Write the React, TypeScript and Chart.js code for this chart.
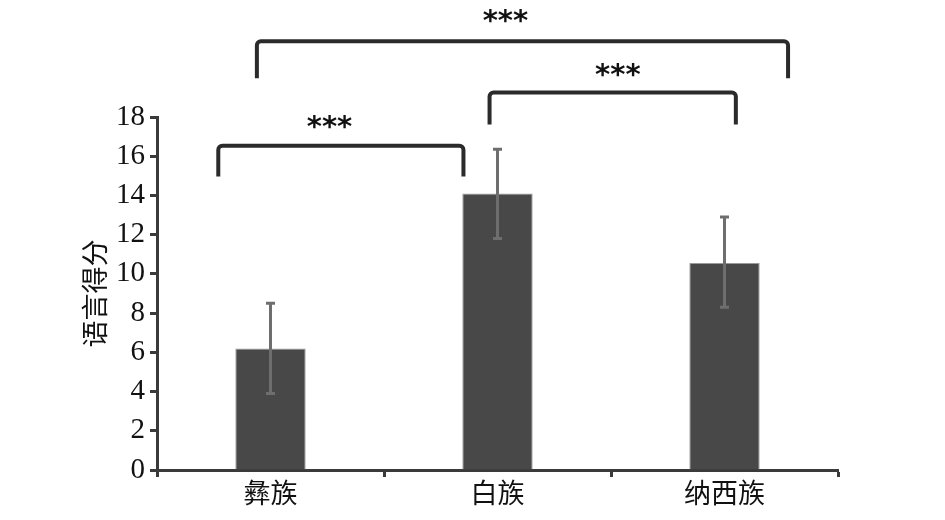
import React, { useEffect, useRef } from "react";
import { Chart, registerables } from "chart.js";

Chart.register(...registerables);

const categories = ["彝族", "白族", "纳西族"];
const means = [6.2, 14.1, 10.55];
const errLow = [3.9, 11.8, 8.3];
const errHigh = [8.5, 16.35, 12.9];

// significance brackets (x in category units, y in data units)
const bracketFrom = [-0.06, 0.965, -0.23];
const bracketTo = [2.28, 2.05, 0.85];
const bracketTop = [21.86, 19.25, 16.54];
const bracketLeg = [19.97, 17.62, 14.96];
const starX = [1.035, 1.53, 0.26];
const starY = [23.15, 20.37, 17.71];
const starText = ["***", "***", "***"];

const errorBarPlugin = {
  id: "errorBars",
  afterDatasetsDraw(chart: any) {
    const ctx = chart.ctx;
    const meta = chart.getDatasetMeta(0);
    const y = chart.scales.y;
    ctx.save();
    ctx.strokeStyle = "#6e6e6e";
    ctx.lineWidth = 3;
    ctx.lineCap = "butt";
    meta.data.forEach((bar: any, i: number) => {
      const x = bar.x;
      const yl = y.getPixelForValue(errLow[i]);
      const yh = y.getPixelForValue(errHigh[i]);
      ctx.beginPath();
      ctx.moveTo(x, yl);
      ctx.lineTo(x, yh);
      ctx.moveTo(x - 4.5, yl);
      ctx.lineTo(x + 4.5, yl);
      ctx.moveTo(x - 4.5, yh);
      ctx.lineTo(x + 4.5, yh);
      ctx.stroke();
    });
    ctx.restore();
  },
};

const bracketPlugin = {
  id: "brackets",
  afterDraw(chart: any) {
    const ctx = chart.ctx;
    const xs = chart.scales.x;
    const ys = chart.scales.y;
    ctx.save();
    ctx.strokeStyle = "#2b2b2b";
    ctx.lineWidth = 4;
    ctx.lineJoin = "round";
    ctx.lineCap = "butt";
    for (let i = 0; i < bracketFrom.length; i++) {
      const x1 = xs.getPixelForValue(bracketFrom[i]);
      const x2 = xs.getPixelForValue(bracketTo[i]);
      const yt = ys.getPixelForValue(bracketTop[i]);
      const yb = ys.getPixelForValue(bracketLeg[i]);
      ctx.beginPath();
      ctx.moveTo(x1, yb);
      ctx.arcTo(x1, yt, x2, yt, 4);
      ctx.arcTo(x2, yt, x2, yb, 4);
      ctx.lineTo(x2, yb);
      ctx.stroke();
    }
    ctx.fillStyle = "#111";
    ctx.font = "bold 29px 'DejaVu Sans'";
    ctx.textAlign = "center";
    ctx.textBaseline = "middle";
    for (let i = 0; i < starText.length; i++) {
      const x = xs.getPixelForValue(starX[i]);
      const y = ys.getPixelForValue(starY[i]);
      ctx.fillText(starText[i], x, y + 6);
    }
    ctx.restore();
  },
};

export default function App() {
  const ref = useRef<HTMLCanvasElement>(null);
  useEffect(() => {
    if (!ref.current) return;
    const chart = new Chart(ref.current, {
      type: "bar",
      data: {
        labels: categories,
        datasets: [
          {
            data: means,
            backgroundColor: "#484848",
            borderColor: "#9a9a9a",
            borderWidth: 1,
            barPercentage: 0.31,
            categoryPercentage: 1,
          },
        ],
      },
      options: {
        responsive: false,
        animation: false,
        layout: { padding: { top: 117, right: 107, left: 0, bottom: 0 } },
        plugins: {
          legend: { display: false },
          tooltip: { enabled: false },
        },
        scales: {
          x: {
            offset: true,
            grid: {
              display: true,
              offset: true,
              drawOnChartArea: false,
              drawTicks: true,
              tickLength: 7,
              tickWidth: 3,
              tickColor: "#3a3a3a",
            },
            border: { display: true, color: "#3a3a3a", width: 3 },
            ticks: {
              color: "#111",
              font: { family: "'Noto Sans CJK SC'", size: 27 },
              padding: 0,
              maxRotation: 0,
            },
            afterFit(scale: any) {
              scale.height = 50;
            },
          },
          y: {
            min: 0,
            max: 18,
            grid: {
              display: true,
              drawOnChartArea: false,
              drawTicks: true,
              tickLength: 7,
              tickWidth: 3,
              tickColor: "#3a3a3a",
            },
            border: { display: true, color: "#3a3a3a", width: 3 },
            ticks: {
              stepSize: 2,
              color: "#111",
              font: { family: "'Liberation Serif'", size: 29 },
              padding: 5,
            },
            title: {
              display: true,
              text: "语言得分",
              color: "#111",
              font: { family: "'Noto Sans CJK SC'", size: 27 },
              padding: { top: 79, bottom: 0 },
            },
            afterFit(scale: any) {
              scale.width = 157;
            },
          },
        },
      },
      plugins: [errorBarPlugin, bracketPlugin],
    });
    return () => chart.destroy();
  }, []);
  return (
    <div style={{ position: "fixed", left: 0, top: 0, width: 945, height: 520, background: "#fff" }}>
      <canvas ref={ref} width={945} height={520} />
    </div>
  );
}
